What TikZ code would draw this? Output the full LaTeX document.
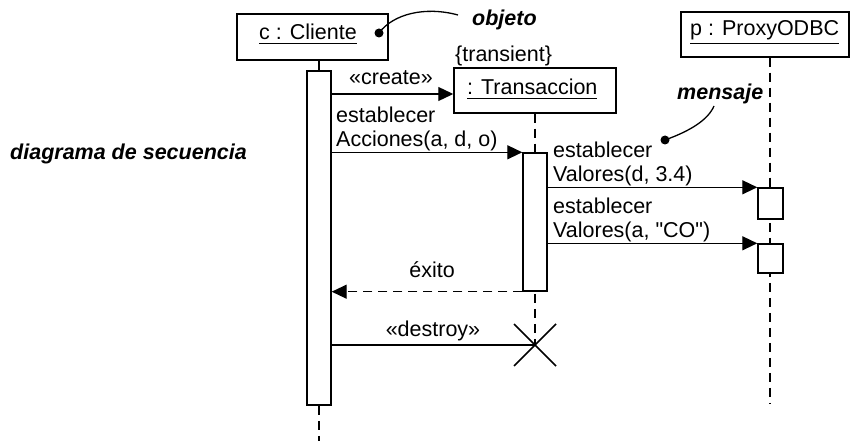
\documentclass[tikz,border=0pt]{standalone}
\usepackage{fontspec}
\setmainfont{Liberation Sans}[Ligatures=TeXOff]
\usetikzlibrary{arrows.meta}
\newcommand{\fsz}{\fontsize{21.5}{24}\selectfont}
\newcommand{\myul}[1]{\leavevmode\vtop{\hbox{#1}\kern2.5pt\hrule height 1.3pt}}
\begin{document}
\begin{tikzpicture}[x=1pt,y=-1pt,
  objbox/.style={draw, line width=1.5pt, inner sep=0pt},
  lbl/.style={font=\fsz, inner sep=0pt},
  notelbl/.style={font=\fsz\bfseries\itshape, inner sep=0pt},
  actbar/.style={draw, fill=white, line width=1.4pt, inner sep=0pt},
  lifeline/.style={line width=1.4pt, dash pattern=on 9pt off 6pt},
  msg/.style={line width=1.3pt, -{Triangle[length=15pt,width=14pt]}},
  retmsg/.style={msg, dash pattern=on 9pt off 6pt},
  notedot/.style={circle, fill, minimum size=9pt, inner sep=0pt},
  notecurve/.style={line width=1.3pt},
  xmark/.style={line width=1.5pt}
]
\useasboundingbox (0,0) rectangle (852,441);

% helper coordinates
\coordinate (y1) at (0,94);
\coordinate (clend) at (319,441);
\coordinate (pxend) at (770,403);
\coordinate (trx) at (535,345);
\coordinate (objtip) at (458,15);
\coordinate (mstip) at (714,106);

% object boxes
\node[objbox, minimum width=151pt, minimum height=46pt] (clbox) at (312.5,37) {};
\node[lbl, anchor=base west] (cltxt) at (259,40) {\myul{c : Cliente}};
\node[objbox, minimum width=162pt, minimum height=45pt] (trbox) at (535,90.5) {};
\node[lbl, anchor=base west] (trtxt) at (467,95) {\myul{: Transaccion}};
\node[lbl, anchor=base west] (trans) at (455,62) {\{transient\}};
\node[objbox, minimum width=168pt, minimum height=45pt] (pxbox) at (765,34.5) {};
\node[lbl, anchor=base west] (pxtxt) at (690,36) {\myul{p : ProxyODBC}};

% lifelines
\draw[lifeline] (clbox.south -| clend) -- (clend);
\draw[lifeline] (trbox.south) -- (trx);
\draw[lifeline] (pxbox.south -| pxend) -- (pxend);

% activation bars
\node[actbar, minimum width=24pt, minimum height=334pt] (clbar) at (319,238) {};
\node[actbar, minimum width=24pt, minimum height=138pt] (trbar) at (535,222) {};
\node[actbar, minimum width=25pt, minimum height=31pt] (pa1) at (770.5,203.5) {};
\node[actbar, minimum width=25pt, minimum height=29pt] (pa2) at (770.5,258.5) {};

% messages
\draw[msg] (clbar.east |- y1) -- (trbox.west |- y1);
\node[lbl, anchor=base] (create) at (391,85) {«create»};
\draw[msg] (clbar.east |- trbar.north west) -- (trbar.north west);
\node[lbl, align=left, anchor=south west] (acc) at (336,151) {establecer\\Acciones(a, d, o)};
\draw[msg] (trbar.east |- pa1.north west) -- (pa1.north west);
\node[lbl, align=left, anchor=south west] (val1) at (553,186) {establecer\\Valores(d, 3.4)};
\draw[msg] (trbar.east |- pa2.north west) -- (pa2.north west);
\node[lbl, align=left, anchor=south west] (val2) at (553,242) {establecer\\Valores(a, "CO")};
\draw[retmsg] (trbar.south west) -- (clbar.east |- trbar.south west);
\node[lbl, anchor=base] (exito) at (432,277) {éxito};
\draw[line width=1.3pt] (clbar.east |- trx) -- (trx);
\node[lbl, anchor=base] (destroy) at (433,336) {«destroy»};

% destruction mark
\draw[xmark] (trx) ++(-21,-21) -- ++(42,42);
\draw[xmark] (trx) ++(-21,21) -- ++(42,-42);

% notes
\node[notedot] (cldot) at (379,33) {};
\node[notelbl, anchor=base west] (objeto) at (472,26) {objeto};
\draw[notecurve] (cldot.center) .. controls (393,14) and (425,6) .. (objtip);
\node[notedot] (msdot) at (665,140) {};
\node[notelbl, anchor=base west] (mensaje) at (677,100) {mensaje};
\draw[notecurve] (msdot.center) .. controls (690,131) and (708,120) .. (mstip);
\node[notelbl, anchor=base west] (diag) at (10,160) {diagrama de secuencia};
\end{tikzpicture}
\end{document}
